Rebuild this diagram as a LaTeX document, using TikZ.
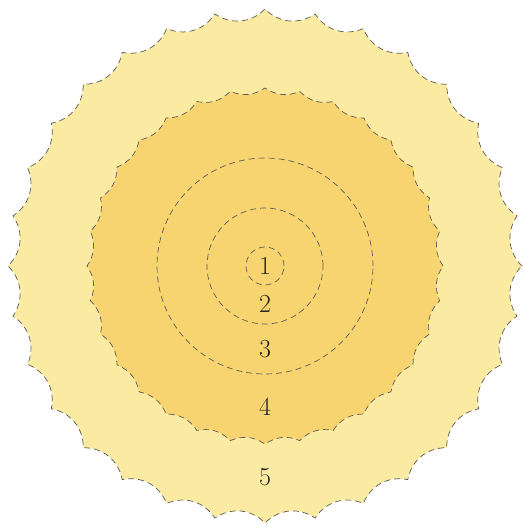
\documentclass[tikz,border=0pt]{standalone}
\usepackage{tikz}
\usetikzlibrary{calc}
\definecolor{zoneouter}{HTML}{FBEBA2}
\definecolor{zoneinner}{HTML}{F8D470}
\definecolor{edgegrey}{HTML}{5A5A5A}
\tikzset{
  zoneedge/.style={
    draw=edgegrey, line width=0.7pt, dash pattern=on 6pt off 4pt
  },
  zonelabel/.style={
    font=\fontsize{26}{30}\selectfont, text=black!85, inner sep=0pt
  },
}

\begin{document}
\begin{tikzpicture}[x=1pt,y=1pt]
  \useasboundingbox (-265,-260) rectangle (258,266);

  % outer scalloped zone
  \path[zoneedge, fill=zoneouter] (0:257)
    \foreach \i in {1,...,32}{ to[bend left=40] (\i*11.25:257) } -- cycle;
  % inner scalloped zone
  \path[zoneedge, fill=zoneinner] (0:178)
    \foreach \i in {1,...,32}{ to[bend left=28] (\i*11.25:178) } -- cycle;
  % circles
  \draw[zoneedge] (0,0) circle (108);
  \draw[zoneedge] (0,0) circle (58);
  \draw[zoneedge] (0,0) circle (19);

  \node[zonelabel] (z1) at (0,0) {1};
  \node[zonelabel] (z2) at (0,-38) {2};
  \node[zonelabel] (z3) at (0,-83) {3};
  \node[zonelabel] (z4) at (0,-141) {4};
  \node[zonelabel] (z5) at (0,-211) {5};
\end{tikzpicture}
\end{document}
